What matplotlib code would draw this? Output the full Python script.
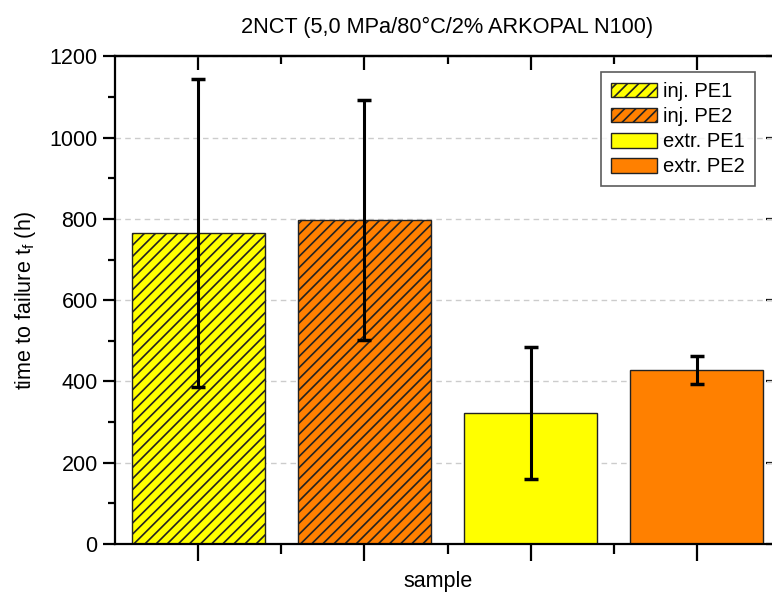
import matplotlib
matplotlib.use("Agg")
import matplotlib.pyplot as plt
from matplotlib.patches import Patch
from matplotlib.ticker import MultipleLocator

plt.rcParams['font.family'] = ['Liberation Sans', 'DejaVu Sans']
plt.rcParams['hatch.linewidth'] = 1.2

labels = ["inj. PE1", "inj. PE2", "extr. PE1", "extr. PE2"]
values = [766, 797, 322, 428]
errors = [379, 295, 163, 35]
colors = ["#FFFF00", "#FF8000", "#FFFF00", "#FF8000"]
hatches = ["///", "///", "", ""]
title = "2NCT (5,0 MPa/80°C/2% ARKOPAL N100)"

fig = plt.figure(figsize=(7.72, 5.97), dpi=100)
ax = fig.add_axes([115/772, 1-544/597, 665/772, (544-56.4)/597])

x = list(range(1, len(values)+1))
for xi, v, c, h in zip(x, values, colors, hatches):
    ax.bar(xi, v, width=0.8, color=c, edgecolor="#222222", linewidth=1.0, hatch=h, zorder=2)
ax.errorbar(x, values, yerr=errors, fmt='none', ecolor='black', elinewidth=2.2,
            capsize=5, capthick=2.5, zorder=3)

ax.set_xlim(0.5, 4.5)
ax.set_ylim(0, 1200)
ax.yaxis.set_major_locator(MultipleLocator(200))
ax.yaxis.set_minor_locator(MultipleLocator(100))
ax.set_xticks(x)
ax.set_xticklabels([])
ax.set_xticks([1.5, 2.5, 3.5], minor=True)
ax.grid(axis='y', which='major', linestyle=(0, (4, 3)), color='#cccccc', linewidth=1.0, zorder=0)

for s in ax.spines.values():
    s.set_linewidth(1.6)

ax.tick_params(axis='both', which='major', direction='out', width=1.6, labelsize=15.5)
ax.tick_params(axis='y', which='major', length=9)
ax.tick_params(axis='y', which='minor', direction='out', length=5, width=1.6)
ax.tick_params(axis='x', which='major', length=12)
ax.tick_params(axis='x', which='minor', direction='out', length=7, width=1.6)

top = ax.secondary_xaxis('top')
top.set_xticks(x)
top.set_xticklabels([])
top.set_xticks([1.5, 2.5, 3.5], minor=True)
top.tick_params(which='major', direction='in', length=10, width=1.6)
top.tick_params(which='minor', direction='in', length=6, width=1.6)
top.spines['top'].set_linewidth(1.6)

right = ax.secondary_yaxis('right')
right.yaxis.set_major_locator(MultipleLocator(200))
right.yaxis.set_minor_locator(MultipleLocator(100))
right.set_yticklabels([])
right.tick_params(which='major', direction='in', length=10, width=1.6)
right.tick_params(which='minor', direction='in', length=5, width=1.6)

ax.set_ylabel(r"time to failure t$_\mathregular{f}$ (h)", fontsize=15.5, labelpad=8)
fig.text(438/772, 1-582/597, "sample", fontsize=15.5, ha='center', va='center')
fig.text(447/772, 1-27/597, title, fontsize=15.7, ha='center', va='center')

handles = [Patch(facecolor=c, edgecolor="#222222", hatch=h, label=l)
           for c, h, l in zip(colors, hatches, labels)]
leg = ax.legend(handles=handles, loc='upper right',
                bbox_to_anchor=((755-115)/665, 1 - (72-56.4)/487.6),
                fontsize=14.5, frameon=True, fancybox=False, edgecolor='#333333',
                handlelength=2.3, handleheight=0.75, borderpad=0.5, labelspacing=0.3,
                handletextpad=0.3, borderaxespad=0)
leg.get_frame().set_linewidth(1.2)

fig.savefig("out.png", dpi=100)
